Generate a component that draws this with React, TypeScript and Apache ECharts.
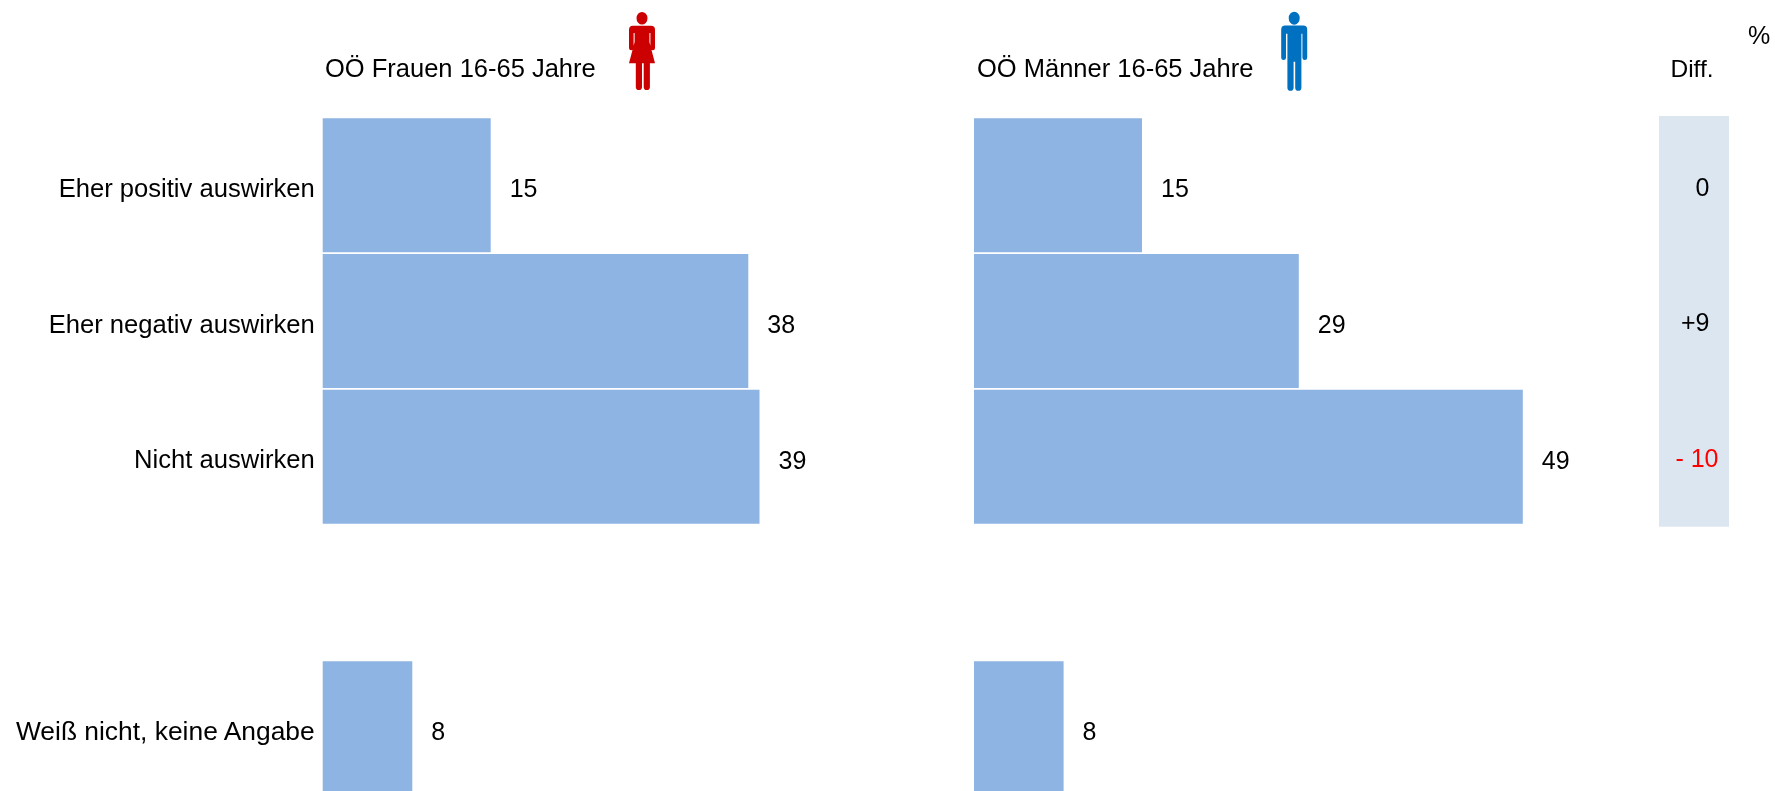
import React, { useEffect, useRef } from "react";
import * as echarts from "echarts";

// Survey shares in percent; the empty row separates the "don't know" answer.
const categories = ["Eher positiv auswirken", "Eher negativ auswirken", "Nicht auswirken", "", "Weiß nicht, keine Angabe"];
const frauenValues = [15, 38, 39, null, 8];
const maennerValues = [15, 29, 49, null, 8];
const diffLabels = ["0", "+9", "- 10"];
const diffColors = ["#000000", "#000000", "#ff0000"];
const diffRightEdges = [1709.5, 1709.5, 1718.5];
const headerFrauen = "OÖ Frauen 16-65 Jahre";
const headerMaenner = "OÖ Männer 16-65 Jahre";

const FONT = "'Liberation Sans', Arial, sans-serif";
const BAR = "#8eb4e3";
const GRID_TOP = 117.4;
const ROW = 135.75;
const UNIT = 11.2;

// Pictogram outlines, 26 units wide and about 78 high.
const WOMAN =
  "M13 0a5.5 6.3 0 1 1 0 12.6a5.5 6.3 0 1 1 0-12.6z" +
  "M4 13.7H22a4 4 0 0 1 4 4V36a2.3 2.3 0 0 1-4.6 0V21H20.4V30L26 51.3H20.9V75a3 3 0 0 1-6.2 0V51.3H13V75a3 3 0 0 1-6.2 0V51.3H0L5.6 30V21H4.6V36a2.3 2.3 0 0 1-4.6 0V17.7a4 4 0 0 1 4-4z";
const MAN =
  "M13.2 0a5.5 6.5 0 1 1 0 13a5.5 6.5 0 1 1 0-13z" +
  "M4.2 13.8H22.2a4 4 0 0 1 4 4V46a2.4 2.4 0 0 1-4.8 0V22H20.4V76a3.1 3.1 0 0 1-6.2 0V50H12.6V76a3.1 3.1 0 0 1-6.2 0V22H5V46a2.4 2.4 0 0 1-4.8 0V17.8a4 4 0 0 1 4-4z";
echarts.graphic.registerShape("woman", echarts.graphic.extendPath(WOMAN, {}) as any);
echarts.graphic.registerShape("man", echarts.graphic.extendPath(MAN, {}) as any);

const barSeries = (name: string, data: (number | null)[], index: number) => ({
  name,
  type: "bar",
  xAxisIndex: index,
  yAxisIndex: index,
  data,
  barWidth: 134,
  itemStyle: { color: BAR },
  label: {
    show: true,
    position: "right",
    distance: 19,
    offset: [0, 3],
    color: "#000",
    fontFamily: FONT,
    fontSize: 25,
  },
});

export default function App() {
  const ref = useRef<HTMLDivElement>(null);

  useEffect(() => {
    const chart = echarts.init(ref.current!, undefined, { renderer: "svg" });
    const valueAxis = (gridIndex: number) => ({
      type: "value",
      gridIndex,
      min: 0,
      max: 50,
      show: false,
    });
    // A short line box hung from the tick sets the text slightly below the bar's centre.
    const labelBox = { verticalAlign: "top", lineHeight: 5 };
    const categoryAxis = (gridIndex: number, showLabels: boolean) => ({
      type: "category",
      gridIndex,
      inverse: true,
      data: categories.map((value, i) =>
        i === categories.length - 1 ? { value, textStyle: { fontSize: 26.4, ...labelBox } } : { value },
      ),
      axisLine: { show: false },
      axisTick: { show: false },
      axisLabel: {
        show: showLabels,
        interval: 0,
        margin: 8,
        ...labelBox,
        color: "#000",
        fontFamily: FONT,
        fontSize: 25.6,
      },
    });
    const headerText = (x: number, text: string) => ({
      type: "text",
      x,
      y: 68,
      style: { text, fill: "#000", font: `25.5px ${FONT}`, textVerticalAlign: "middle" },
    });

    chart.setOption({
      animation: false,
      grid: [
        { left: 322.7, top: GRID_TOP, width: UNIT * 50, height: ROW * 5, outerBoundsMode: "none" },
        { left: 974, top: GRID_TOP, width: UNIT * 50, height: ROW * 5, outerBoundsMode: "none" },
      ],
      xAxis: [valueAxis(0), valueAxis(1)],
      yAxis: [categoryAxis(0, true), categoryAxis(1, false)],
      series: [barSeries("Frauen", frauenValues, 0), barSeries("Männer", maennerValues, 1)],
      graphic: [
        headerText(325, headerFrauen),
        headerText(977, headerMaenner),
        { type: "woman", x: 629, y: 12, style: { fill: "#cc0000" } },
        { type: "man", x: 1281, y: 11.7, style: { fill: "#0070c0" } },
        { type: "rect", shape: { x: 1659, y: 116, width: 70, height: 410.7 }, style: { fill: "#dce6f1" }, z: -1 },
        {
          type: "text",
          x: 1692,
          y: 68,
          style: { text: "Diff.", fill: "#000", font: `24.5px ${FONT}`, textAlign: "center", textVerticalAlign: "middle" },
        },
        {
          type: "text",
          x: 1759,
          y: 35,
          style: { text: "%", fill: "#000", font: `25px ${FONT}`, textAlign: "center", textVerticalAlign: "middle" },
        },
        ...diffLabels.map((text, i) => ({
          type: "text",
          x: diffRightEdges[i],
          y: 186.5 + i * ROW,
          style: { text, fill: diffColors[i], font: `25px ${FONT}`, textAlign: "right", textVerticalAlign: "middle" },
        })),
      ],
    });
    return () => chart.dispose();
  }, []);

  return <div ref={ref} style={{ position: "fixed", left: 0, top: 0, width: 1775, height: 791 }} />;
}
